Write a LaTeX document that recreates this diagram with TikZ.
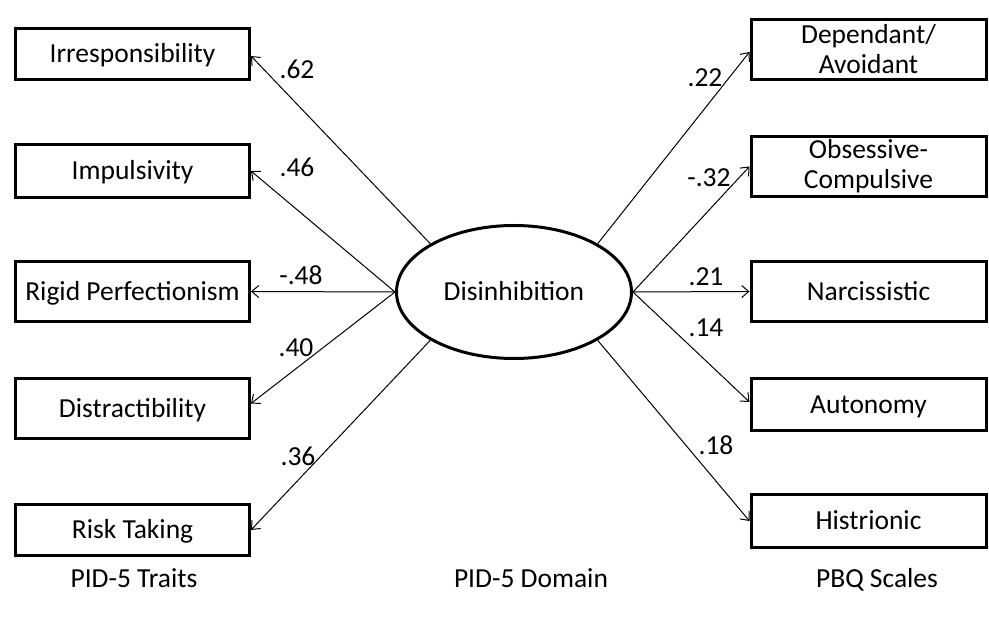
\documentclass[tikz,border=0pt]{standalone}
\usepackage{fontspec}
\setmainfont{Carlito}
\usetikzlibrary{arrows.meta,shapes.geometric}
\newcommand\diagfont{\fontsize{27.5}{30}\selectfont}
\begin{document}
\begin{tikzpicture}[x=1pt,y=-1pt,
  box/.style={draw,line width=3pt,rectangle,inner sep=0pt,align=center,font=\diagfont},
  one/.style={text height=22pt,text depth=4pt},
  lbox/.style={box,minimum width=234pt},
  rbox/.style={box,minimum width=235pt},
  lat/.style={draw,line width=3pt,ellipse,inner sep=0pt,minimum width=235pt,minimum height=133pt,font=\diagfont,one},
  arr/.style={line width=1pt,-{Straight Barb[length=7pt,width=12pt,line width=1pt]}},
  lab/.style={inner sep=0pt,font=\diagfont},
  ttl/.style={inner sep=0pt,font=\diagfont,anchor=base}]
\useasboundingbox (0,0) rectangle (989,617);
% latent
\node[lat] (E) at (514,292) {Disinhibition};
% left boxes
\node[lbox,one,minimum height=51pt] (irr) at (132.5,54) {Irresponsibility};
\node[lbox,one,minimum height=53pt] (imp) at (132.5,171) {Impulsivity};
\node[lbox,one,minimum height=60pt] (rig) at (132.5,291.5) {Rigid Perfectionism};
\node[lbox,one,minimum height=60pt] (dis) at (132.5,408.5) {Distractibility};
\node[lbox,one,minimum height=51pt] (ris) at (132.5,530) {Risk Taking};
% right boxes
\node[rbox,minimum height=60pt] (dep) at (868.5,49.5) {Dependant/\\Avoidant};
\node[rbox,minimum height=60pt] (obs) at (868.5,166.5) {Obsessive-\\Compulsive};
\node[rbox,one,minimum height=60pt] (nar) at (868.5,291.5) {Narcissistic};
\node[rbox,one,minimum height=52pt] (aut) at (868.5,404.5) {Autonomy};
\node[rbox,one,minimum height=53pt] (his) at (868.5,521) {Histrionic};
% arrows left
\draw[arr] (E.150) -- ([yshift=-2pt]irr.east);
\draw[arr] (E.west) -- (imp.east);
\draw[arr] (E.west) -- (rig.east);
\draw[arr] (E.west) -- ([yshift=5pt]dis.east);
\draw[arr] (E.210) -- (ris.east);
% arrows right
\draw[arr] (E.30) -- ([yshift=-2.5pt]dep.west);
\draw[arr] (E.east) -- (obs.west);
\draw[arr] (E.east) -- (nar.west);
\draw[arr] (E.east) -- ([yshift=2.5pt]aut.west);
\draw[arr] (E.330) -- (his.west);
% loadings
\node[lab] (l1) at (297,69) {.62};
\node[lab] (l2) at (297,167) {.46};
\node[lab] (l3) at (301,275) {-.48};
\node[lab] (l4) at (296,348) {.40};
\node[lab] (l5) at (298,456) {.36};
\node[lab] (r1) at (705,78) {.22};
\node[lab] (r2) at (709,178) {-.32};
\node[lab] (r3) at (706,277) {.21};
\node[lab] (r4) at (706,328) {.14};
\node[lab] (r5) at (716,445) {.18};
% column titles
\node[ttl] (t1) at (134,587) {PID-5 Traits};
\node[ttl] (t2) at (531,587) {PID-5 Domain};
\node[ttl] (t3) at (877,587) {PBQ Scales};
\end{tikzpicture}
\end{document}
